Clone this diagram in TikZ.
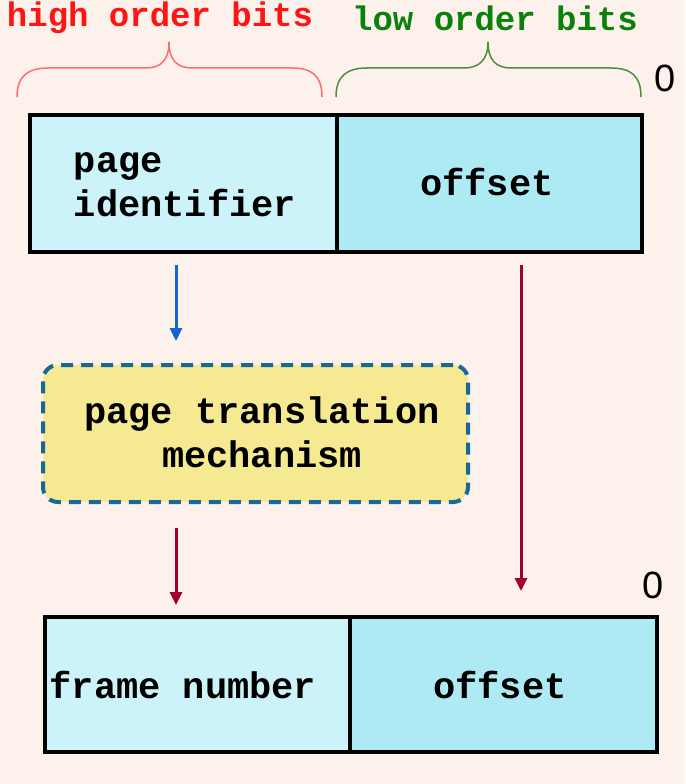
\documentclass[tikz,border=0pt]{standalone}
\usepackage{fontspec}
\setmainfont{Liberation Sans}
\newfontfamily\monob[BoldFont={Liberation Mono Bold}]{Liberation Mono}
\usetikzlibrary{arrows.meta}
\definecolor{bgc}{RGB}{253,241,236}
\definecolor{cellA}{RGB}{205,243,250}
\definecolor{cellB}{RGB}{174,234,244}
\definecolor{ylw}{RGB}{245,233,146}
\definecolor{dashblue}{RGB}{24,104,156}
\definecolor{arrblue}{RGB}{21,101,208}
\definecolor{arrred}{RGB}{160,0,50}
\definecolor{hired}{RGB}{255,20,20}
\definecolor{logreen}{RGB}{10,130,10}
\definecolor{bracered}{RGB}{255,110,110}
\definecolor{bracegreen}{RGB}{80,140,60}
\tikzset{
  cell/.style={draw=black, line width=4pt, inner sep=0pt, anchor=north west},
  celltext/.style={font=\monob\bfseries\fontsize{37}{44}\selectfont, inner sep=0pt},
  toplabel/.style={font=\monob\bfseries\fontsize{34}{40}\selectfont, inner sep=0pt},
  zero/.style={font=\fontsize{38}{44}\selectfont, inner sep=0pt},
  flow/.style={line width=3pt, -{Triangle[width=12pt,length=13pt]}},
}
\begin{document}
\begin{tikzpicture}[x=1pt,y=-1pt]
\fill[bgc] (0,0) rectangle (685,784);
\useasboundingbox (0,0) rectangle (685,784);
% labels
\node[toplabel, text=hired] (hob) at (160,18) {high order bits};
\node[toplabel, text=logreen] (lob) at (495,18) {low order bits};
% braces
\draw[bracered, line width=1.5pt] (17,97) .. controls (17,76) and (28,68) .. (48,68) -- (146,68) .. controls (161,68) and (169,60) .. (169,42) .. controls (169,60) and (177,68) .. (192,68) -- (292,68) .. controls (312,68) and (322,76) .. (322,97);
\draw[bracegreen, line width=1.5pt] (336,97) .. controls (336,76) and (347,68) .. (367,68) -- (464,68) .. controls (479,68) and (488,60) .. (488,42) .. controls (488,60) and (496,68) .. (511,68) -- (611,68) .. controls (631,68) and (641,76) .. (641,97);
\node[zero] (z1) at (665,78) {0};
\node[zero] (z2) at (653,585) {0};
% top box
\node[cell, fill=cellA, minimum width=307pt, minimum height=137pt] (pid) at (28,113) {};
\node[cell, fill=cellB, minimum width=305pt, minimum height=137pt] (off1) at (335,113) {};
\node[celltext, align=left] (pidt) at (185,185) {page\\identifier};
\node[celltext] (off1t) at (487,182) {offset};
% translation box
\node[draw=dashblue, fill=ylw, line width=4pt, dash pattern=on 12pt off 8pt, rounded corners=15pt, minimum width=425pt, minimum height=137pt, inner sep=0pt] (ptm) at (255.5,433.5) {};
\node[celltext, align=center] (ptmt) at (262,432) {page translation\\mechanism};
% bottom box
\node[cell, fill=cellA, minimum width=305pt, minimum height=135pt] (fn) at (43,615) {};
\node[cell, fill=cellB, minimum width=307pt, minimum height=135pt] (off2) at (348,615) {};
\node[celltext] (fnt) at (183,685) {frame number};
\node[celltext] (off2t) at (500,685) {offset};
% arrows
\coordinate (a1s) at (176,265);
\coordinate (a1e) at (176,341);
\coordinate (a2s) at (176,528);
\coordinate (a2e) at (176,605);
\coordinate (a3s) at (521,265);
\coordinate (a3e) at (521,591);
\draw[flow, arrblue] (a1s) -- (a1e);
\draw[flow, arrred] (a2s) -- (a2e);
\draw[flow, arrred] (a3s) -- (a3e);
\end{tikzpicture}
\end{document}
